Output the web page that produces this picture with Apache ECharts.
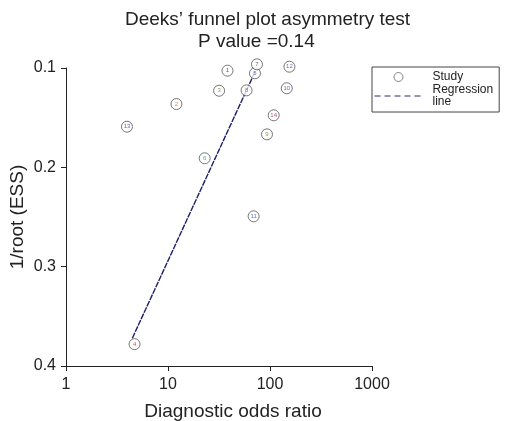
<!DOCTYPE html>
<html>
<head>
<meta charset="utf-8">
<script src="https://cdn.jsdelivr.net/npm/echarts@6/dist/echarts.min.js"></script>
<style>
  html, body { margin: 0; padding: 0; background: #fff; }
  #chart { width: 505px; height: 421px; }
</style>
</head>
<body>
<div id="chart"></div>
<script>
// studies: id, diagnostic odds ratio, 1/root(ESS)
var studyIds = ['1', '2', '3', '4', '5', '6', '7', '8', '9', '10', '11', '12', '13', '14'];
var studyDor = [38.3, 12.1, 31.7, 4.7, 71.2, 22.9, 74.5, 58.9, 93.4, 146, 69.1, 155, 3.96, 108.7];
var studyInvEss = [0.1027, 0.1363, 0.1229, 0.378, 0.1053, 0.1909, 0.0963, 0.1225, 0.1668, 0.1204, 0.2493, 0.0987, 0.1591, 0.1476];
var labelColors = ['#333', '#c0702a', '#7a7a20', '#b03030', '#3050b0', '#2a8a8a', '#444',
                   '#8a5020', '#6a8a20', '#3050a0', '#3050c0', '#6040a0', '#404090', '#a03060'];

// fitted regression line (end points)
var regDor = [4.47, 71.2];
var regInvEss = [0.372, 0.104];

var yTicks = [0.1, 0.2, 0.3, 0.4];

var chart = echarts.init(document.getElementById('chart'));

var studyData = [];
for (var i = 0; i < studyIds.length; i++) {
    studyData.push({
        value: [studyDor[i], studyInvEss[i]],
        name: studyIds[i],
        label: { color: labelColors[i] }
    });
}
var regData = [];
for (var j = 0; j < regDor.length; j++) {
    regData.push([regDor[j], regInvEss[j]]);
}

var font = 'Liberation Sans, Arial, Helvetica, sans-serif';

var option = {
    animation: false,
    backgroundColor: '#fff',
    title: [
        {
            text: 'Deeks\u2019 funnel plot asymmetry test',
            left: 120, top: 5,
            textStyle: { fontFamily: font, fontSize: 19, fontWeight: 'normal', color: '#222' }
        },
        {
            text: 'P value =0.14',
            left: 193, top: 27,
            textStyle: { fontFamily: font, fontSize: 19, fontWeight: 'normal', color: '#222' }
        }
    ],
    legend: {
        orient: 'vertical',
        left: 372, top: 67,
        padding: [4, 6, 4, 2],
        itemGap: 1,
        itemWidth: 48, itemHeight: 9,
        borderColor: '#444', borderWidth: 1, borderRadius: 0,
        textStyle: { fontFamily: font, fontSize: 12, color: '#222', lineHeight: 12, padding: [0, 0, 0, 5] },
        formatter: function (name) {
            return name === 'Regression' ? 'Regression\nline' : name;
        },
        data: [
            { name: 'Study', icon: 'circle', itemStyle: { color: '#fff', borderColor: '#666', borderWidth: 1 } },
            {
                name: 'Regression',
                itemStyle: { color: 'rgba(0,0,0,0)', borderWidth: 0, opacity: 0 },
                lineStyle: { type: [6, 4], width: 1, color: '#2a2a78' }
            }
        ]
    },
    grid: { left: 66, right: 133, top: 68, bottom: 55, containLabel: false, outerBoundsMode: 'none' },
    xAxis: {
        type: 'log',
        logBase: 10,
        min: 1, max: 1000,
        name: 'Diagnostic odds ratio',
        nameLocation: 'middle',
        nameGap: 36,
        nameMoveOverlap: false,
        nameTextStyle: { fontFamily: font, fontSize: 19, color: '#222', padding: [0, 0, 0, 28] },
        axisLine: { show: true, lineStyle: { color: '#222', width: 1 } },
        axisTick: { show: true, inside: false, length: 5, lineStyle: { color: '#222' } },
        axisLabel: {
            fontFamily: font, fontSize: 16, color: '#222', margin: 11,
            formatter: function (v) { return String(v); }
        },
        splitLine: { show: false }
    },
    yAxis: {
        type: 'value',
        inverse: true,
        min: 0.1, max: 0.4, interval: 0.1,
        name: '1/root (ESS)',
        nameLocation: 'middle',
        nameGap: 39,
        nameMoveOverlap: false,
        nameTextStyle: { fontFamily: font, fontSize: 19, color: '#222' },
        axisLine: { show: true, lineStyle: { color: '#222', width: 1 } },
        axisTick: { show: true, inside: false, length: 5, lineStyle: { color: '#222' } },
        axisLabel: {
            fontFamily: font, fontSize: 16, color: '#222', margin: 10,
            formatter: function (v) { return yTicks.indexOf(Math.round(v * 10) / 10) >= 0 ? v.toFixed(1) : ''; }
        },
        splitLine: { show: false }
    },
    series: [
        {
            name: 'Regression',
            type: 'line',
            data: regData,
            symbol: 'none',
            clip: false,
            lineStyle: { color: '#1e1e66', width: 1.4, type: [6, 1] },
            itemStyle: { color: '#1e1e66' },
            z: 1
        },
        {
            name: 'Study',
            type: 'scatter',
            data: studyData,
            symbol: 'circle',
            symbolSize: 11,
            clip: false,
            itemStyle: { color: '#fff', borderColor: '#555', borderWidth: 1 },
            label: {
                show: true,
                position: 'inside',
                formatter: '{b}',
                fontFamily: font,
                fontSize: 6
            },
            z: 3
        }
    ]
};

chart.setOption(option);
</script>
</body>
</html>
